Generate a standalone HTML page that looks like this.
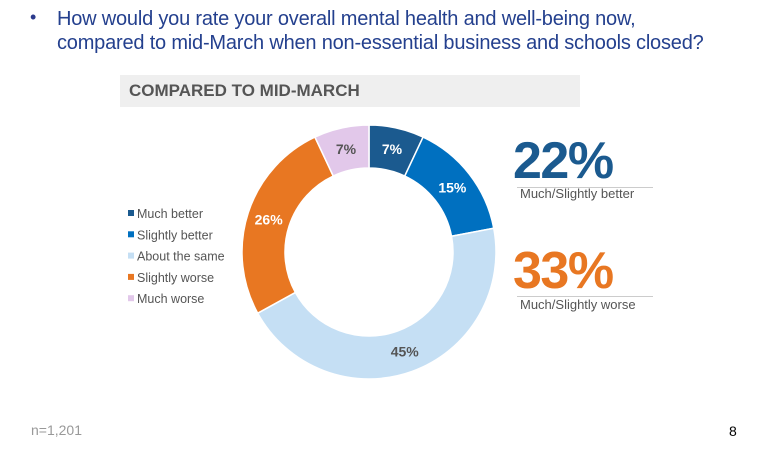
<!DOCTYPE html>
<html><head><meta charset="utf-8"><style>
body{margin:0;width:768px;height:459px;background:#fff;font-family:"Liberation Sans",sans-serif;position:relative;overflow:hidden}
.abs{position:absolute}
</style></head><body>
<div class="abs" style="left:30px;top:7px;font-size:18px;color:#2b3a8c">•</div>
<div class="abs" style="left:57px;top:7px;font-size:20px;line-height:24px;color:#24408e;letter-spacing:-0.2px;white-space:nowrap">How would you rate your overall mental health and well-being now,<br>compared to mid-March when non-essential business and schools closed?</div>
<div class="abs" style="left:120px;top:75px;width:460px;height:32px;background:#efefef"></div>
<div class="abs" style="left:129px;top:81px;font-size:17px;font-weight:bold;color:#555">COMPARED TO MID-MARCH</div>
<svg class="abs" style="left:0;top:0" width="768" height="459">
<g id="donut"></g><g id="legend"></g>
</svg>
<div class="abs" style="left:513px;top:131px;font-size:52px;font-weight:bold;color:#1b5a8f;letter-spacing:-1.5px">22%</div>
<div class="abs" style="left:517px;top:187px;width:136px;height:1px;background:#ccc"></div>
<div class="abs" style="left:520px;top:186px;font-size:13px;color:#555">Much/Slightly better</div>
<div class="abs" style="left:513px;top:241px;font-size:52px;font-weight:bold;color:#e87722;letter-spacing:-1.5px">33%</div>
<div class="abs" style="left:517px;top:296px;width:136px;height:1px;background:#ccc"></div>
<div class="abs" style="left:520px;top:297px;font-size:13px;color:#555">Much/Slightly worse</div>
<div class="abs" style="left:31px;top:422px;font-size:14px;color:#999">n=1,201</div>
<div class="abs" style="left:729px;top:423px;font-size:14px;color:#000">8</div>
<script>
const categories=["Much better","Slightly better","About the same","Slightly worse","Much worse"];
const values=[7,15,45,26,7];
const colors=["#1b5a8f","#0070c0","#c5dff4","#e87722","#e2c8ea"];
const labelColors=["#fff","#fff","#555","#fff","#555"];
const ns="http://www.w3.org/2000/svg";
const cx=369,cy=252,R=127,r=84;
const total=values.reduce((a,b)=>a+b,0);
const g=document.getElementById('donut');
function pt(a,rad){return [cx+rad*Math.sin(a),cy-rad*Math.cos(a)];}
let acc=0;
values.forEach((v,i)=>{
 const a0=acc/total*2*Math.PI,a1=(acc+v)/total*2*Math.PI;acc+=v;
 const lg=(a1-a0)>Math.PI?1:0;
 const p1=pt(a0,R),p2=pt(a1,R),p3=pt(a1,r),p4=pt(a0,r);
 const p=document.createElementNS(ns,'path');
 p.setAttribute('d',`M${p1}A${R},${R} 0 ${lg} 1 ${p2}L${p3}A${r},${r} 0 ${lg} 0 ${p4}Z`);
 p.setAttribute('fill',colors[i]);p.setAttribute('stroke','#fff');p.setAttribute('stroke-width','1.5');
 
 
 g.appendChild(p);
 const m=(a0+a1)/2,lp=pt(m,(R+r)/2);
 const t=document.createElementNS(ns,'text');
 t.setAttribute('x',lp[0]);t.setAttribute('y',lp[1]+5);t.setAttribute('text-anchor','middle');
 t.setAttribute('font-size','14');t.setAttribute('font-weight','bold');t.setAttribute('fill',labelColors[i]);
 t.setAttribute('font-family','Liberation Sans, sans-serif');
 t.textContent=v+'%';
 
 
 g.appendChild(t);
});
const lg=document.getElementById('legend');
categories.forEach((c,i)=>{
 const y=214+i*21.3;
 const s=document.createElementNS(ns,'rect');
 s.setAttribute('x',128);s.setAttribute('y',y-4);s.setAttribute('width',6);s.setAttribute('height',6);s.setAttribute('fill',colors[i]);
 
 
 lg.appendChild(s);
 const t=document.createElementNS(ns,'text');
 t.setAttribute('x',137);t.setAttribute('y',y+4);t.setAttribute('font-size','12.5');t.setAttribute('fill','#555');
 t.setAttribute('font-family','Liberation Sans, sans-serif');
 t.textContent=c;
 
 
 lg.appendChild(t);
});
</script>
</body></html>
